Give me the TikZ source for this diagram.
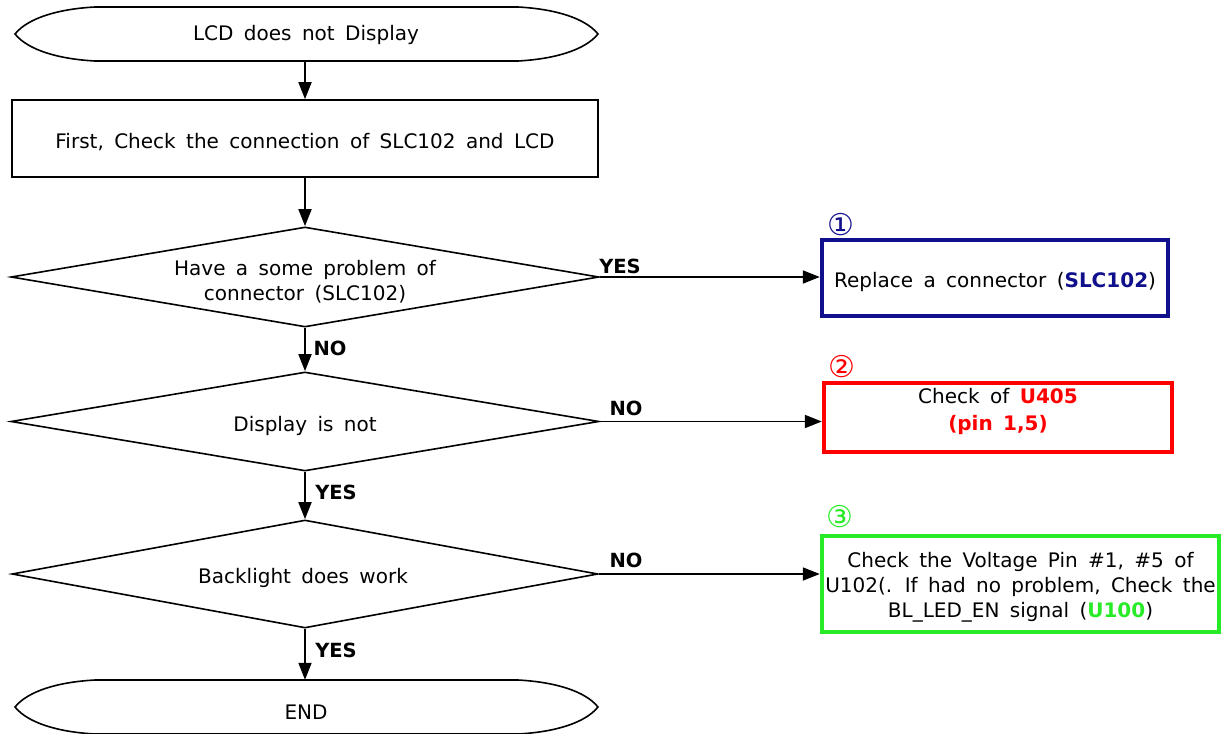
\documentclass[tikz,border=0pt]{standalone}
\usepackage{fontspec}
\setmainfont{DejaVu Sans}
\usetikzlibrary{arrows.meta,shapes.geometric}
\definecolor{navyc}{RGB}{16,16,140}
\definecolor{redc}{RGB}{255,0,0}
\definecolor{greenc}{RGB}{40,235,40}
\newcommand\mywsp{\spaceskip=0.52em plus 0.1em minus 0.05em\relax}
\newcommand\myfont{\fontsize{20}{25}\selectfont\mywsp}
\tikzset{
  txt/.style={inner sep=0pt,font=\myfont,align=center},
  lbl/.style={inner sep=0pt,font=\fontsize{19.5}{24}\selectfont\bfseries},
  num/.style={inner sep=0pt,font=\fontsize{30}{30}\selectfont},
  procbox/.style={draw,line width=1.6pt,minimum width=586pt,minimum height=77pt,inner sep=0pt},
  decbox/.style={draw,diamond,line width=1.6pt,inner sep=0pt,shape aspect=5.9},
  resbox/.style={draw,line width=4.5pt,inner sep=0pt},
  termshape/.style={line width=1.6pt},
  ghost/.style={inner sep=0pt,minimum width=580pt},
  flow/.style={line width=1.8pt,-{Triangle[length=17pt,width=13pt]}}
}
\begin{document}
\begin{tikzpicture}[x=1pt,y=-1pt]
\useasboundingbox[fill=white] (0,0) rectangle (1222,733);
% start terminal
\draw[termshape] (95,7) -- (518,7) .. controls (555,9) and (585,18) .. (598,34)
  .. controls (585,50) and (555,59) .. (518,61) -- (95,61)
  .. controls (58,59) and (28,50) .. (15,34) .. controls (28,18) and (58,9) .. (95,7) -- cycle;
\node[ghost,minimum height=52pt] (start) at (305,35) {};
\node[txt] (starttxt) at (306,35) {LCD does not Display};
% process box
\node[procbox] (chk) at (305,138.5) {};
\node[txt] (chktxt) at (305,142) {First, Check the connection of SLC102 and LCD};
% decisions
\node[decbox,minimum width=588pt,minimum height=100pt] (d1) at (305,277) {};
\node[txt] (d1txt) at (305,282) {Have a some problem of\\connector (SLC102)};
\node[decbox,minimum width=588pt,minimum height=99pt] (d2) at (305,421.5) {};
\node[txt] (d2txt) at (305,426) {Display is not};
\node[decbox,minimum width=586pt,minimum height=108pt] (d3) at (305,574) {};
\node[txt] (d3txt) at (303,578) {Backlight does work};
% end terminal
\draw[termshape] (95,680) -- (518,680) .. controls (555,682) and (585,691) .. (598,707)
  .. controls (585,723) and (555,732) .. (518,734) -- (95,734)
  .. controls (58,732) and (28,723) .. (15,707) .. controls (28,691) and (58,682) .. (95,680) -- cycle;
\node[ghost,minimum height=64pt] (endn) at (305,712) {};
\node[txt] (endtxt) at (306,712) {END};
% result boxes
\node[resbox,draw=navyc,minimum width=346pt,minimum height=76pt] (r1) at (995,278) {};
\node[txt] (r1txt) at (995,282) {Replace a connector (\textcolor{navyc}{\bfseries SLC102})};
\node[num,text=navyc] (n1) at (841,225) {①};
\node[resbox,draw=redc,minimum width=348pt,minimum height=69pt] (r2) at (998,417.5) {};
\node[txt] (r2txt) at (998,411) {Check of \textcolor{redc}{\bfseries U405}\\[2pt]\textcolor{redc}{\bfseries (pin 1,5)}};
\node[num,text=redc] (n2) at (842,367) {②};
\node[resbox,draw=greenc,minimum width=397pt,minimum height=96pt] (r3) at (1020.5,584) {};
\node[txt] (r3txt) at (1020.5,587) {Check the Voltage Pin \#1, \#5 of\\U102(. If had no problem, Check the\\BL\_LED\_EN signal (\textcolor{greenc}{\bfseries U100})};
\node[num,text=greenc] (n3) at (840,517) {③};
% connectors
\draw[flow] (start.south) -- (chk.north);
\draw[flow] (chk.south) -- (d1.north);
\draw[flow] (d1.south) -- (d2.north);
\draw[flow] (d2.south) -- (d3.north);
\draw[flow] (d3.south) -- (endn.north);
\draw[flow] (d1.east) -- (d1.east -| r1.west);
\draw[flow] (d2.east) -- (d2.east -| r2.west);
\draw[flow] (d3.east) -- (d3.east -| r3.west);
% labels
\node[lbl] (l1) at (620,266) {YES};
\node[lbl] (l2) at (330,348) {NO};
\node[lbl] (l3) at (626,408) {NO};
\node[lbl] (l4) at (336,492) {YES};
\node[lbl] (l5) at (626,560) {NO};
\node[lbl] (l6) at (336,650) {YES};
\end{tikzpicture}
\end{document}
